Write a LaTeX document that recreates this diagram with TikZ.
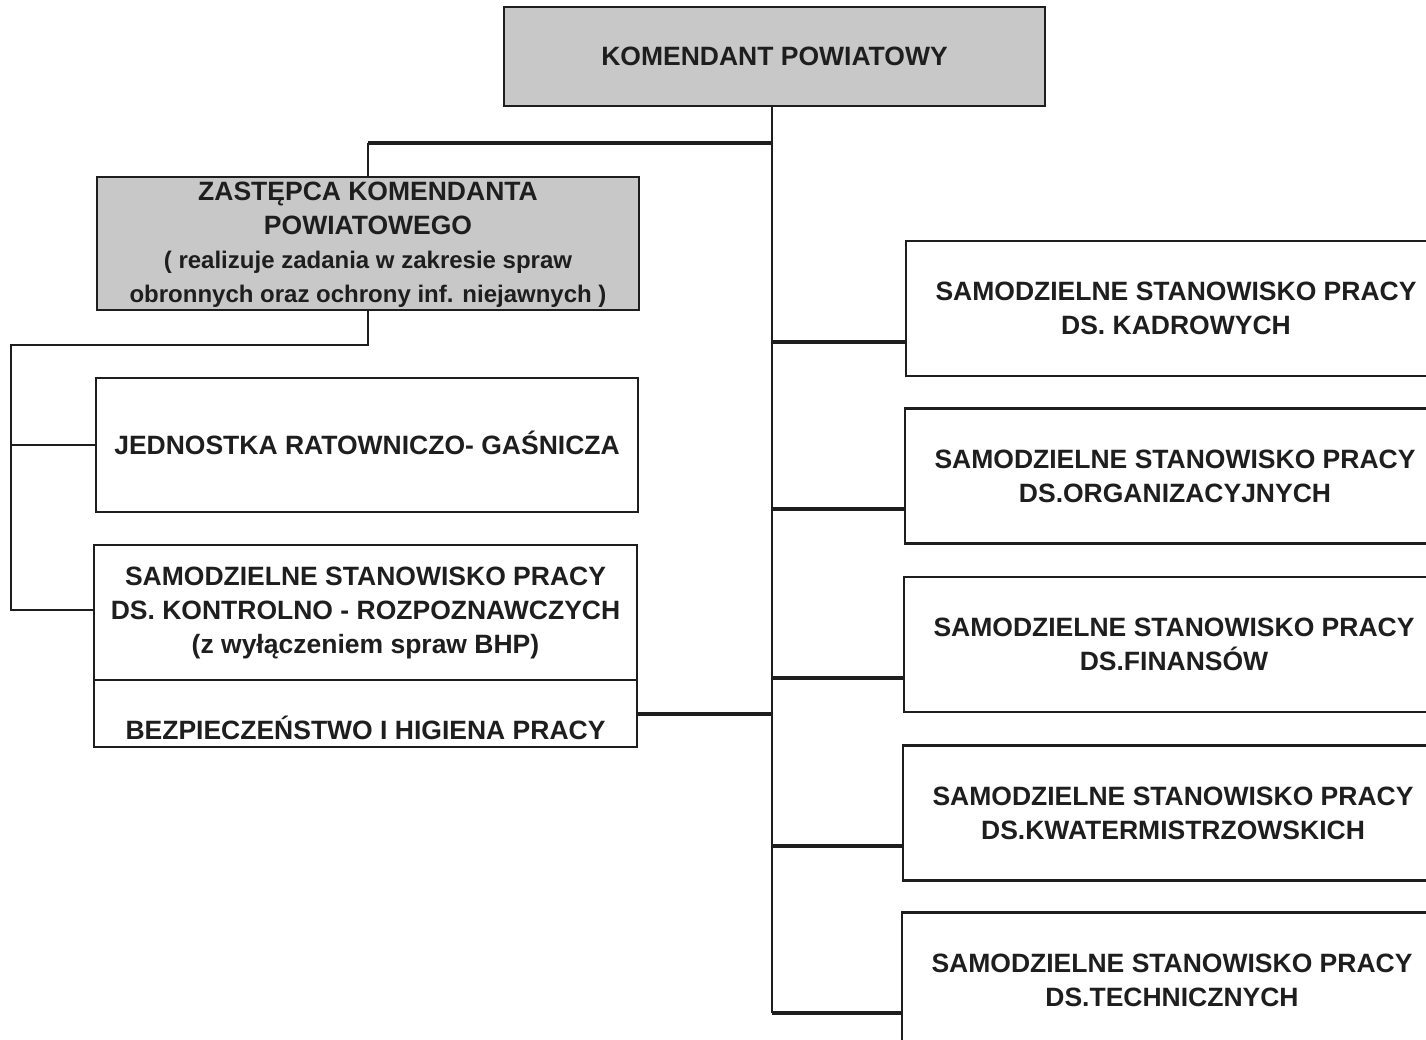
\documentclass[tikz,border=0pt]{standalone}
\usepackage{fontspec}
\setmainfont{Liberation Sans}
\definecolor{boxgray}{RGB}{200,200,200}
\definecolor{ink}{RGB}{30,30,30}
\begin{document}
\begin{tikzpicture}[x=1pt,y=-1pt,
  orgbox/.style={draw=ink,line width=2.2pt,outer sep=0pt,inner sep=0pt,
     align=center,text=ink,font=\fontsize{26.5}{34}\selectfont\bfseries},
  graybox/.style={orgbox,fill=boxgray},
  thinline/.style={draw=ink,line width=2.2pt},
  thickline/.style={draw=ink,line width=4pt}]
\useasboundingbox (0,0) rectangle (1426,1040);
\clip (0,0) rectangle (1426,1040);
\fill[white] (0,0) rectangle (1426,1040);

% nodes
\node[graybox,minimum width=541pt,minimum height=99pt] (top) at (774.5,56.5) {KOMENDANT POWIATOWY};
\node[graybox,minimum width=542pt,minimum height=133pt,text depth=2pt] (zast) at (368,243.5)
  {ZASTĘPCA KOMENDANTA\\POWIATOWEGO\\{\fontsize{24}{34}\selectfont ( realizuje zadania w zakresie spraw}\\{\fontsize{24}{34}\selectfont obronnych oraz ochrony inf. niejawnych )}};
\node[orgbox,minimum width=542pt,minimum height=134pt] (jrg) at (367,445) {};
\node[text=ink,font=\fontsize{26.5}{34}\selectfont\bfseries] (jrgtext) at (367,443) {JEDNOSTKA RATOWNICZO- GAŚNICZA};
\node[orgbox,minimum width=543pt,minimum height=135pt] (kontr) at (365.5,612.5)
  {SAMODZIELNE STANOWISKO PRACY\\DS. KONTROLNO - ROZPOZNAWCZYCH\\(z wyłączeniem spraw BHP)};
\node[orgbox,minimum width=543pt,minimum height=67pt] (bhp) at (365.5,713.5) {};
\node[text=ink,font=\fontsize{26.5}{34}\selectfont\bfseries] (bhptext) at (365.5,728) {BEZPIECZEŃSTWO I HIGIENA PRACY};

\node[orgbox,minimum width=540pt,minimum height=135pt] (r1) at (1176,308.5) {SAMODZIELNE STANOWISKO PRACY\\DS. KADROWYCH};
\node[orgbox,minimum width=540pt,minimum height=135pt] (r2) at (1175,476) {SAMODZIELNE STANOWISKO PRACY\\DS.ORGANIZACYJNYCH};
\node[orgbox,minimum width=540pt,minimum height=135pt] (r3) at (1174,644.5) {SAMODZIELNE STANOWISKO PRACY\\DS.FINANSÓW};
\node[orgbox,minimum width=540pt,minimum height=135pt] (r4) at (1173,813) {SAMODZIELNE STANOWISKO PRACY\\DS.KWATERMISTRZOWSKICH};
\node[orgbox,minimum width=540pt,minimum height=135pt] (r5) at (1172,980) {SAMODZIELNE STANOWISKO PRACY\\DS.TECHNICZNYCH};

% junction coordinates
\coordinate (jz) at (772,143);
\coordinate (lt) at (11,345);
\coordinate (lb) at (11,610);

% trunk
\draw[thinline] (top.south -| jz) -- (jz |- r5.187);
% deputy branch
\draw[thickline] (jz) -- (jz -| zast.north);
\draw[thinline] (jz -| zast.north) -- (zast.north);
% left tree
\draw[thinline] (zast.south) |- (lt) -- (lb) -- (kontr.west |- lb);
\draw[thinline] (jrg.west) -- (jrg.west -| lt);
% BHP to trunk
\draw[thickline] (bhp.east) -- (bhp.east -| jz);
% right branches
\foreach \r in {r1,r2,r3,r4,r5}{
  \draw[thickline] (\r.187) -- (\r.187 -| jz);
}
\end{tikzpicture}
\end{document}
